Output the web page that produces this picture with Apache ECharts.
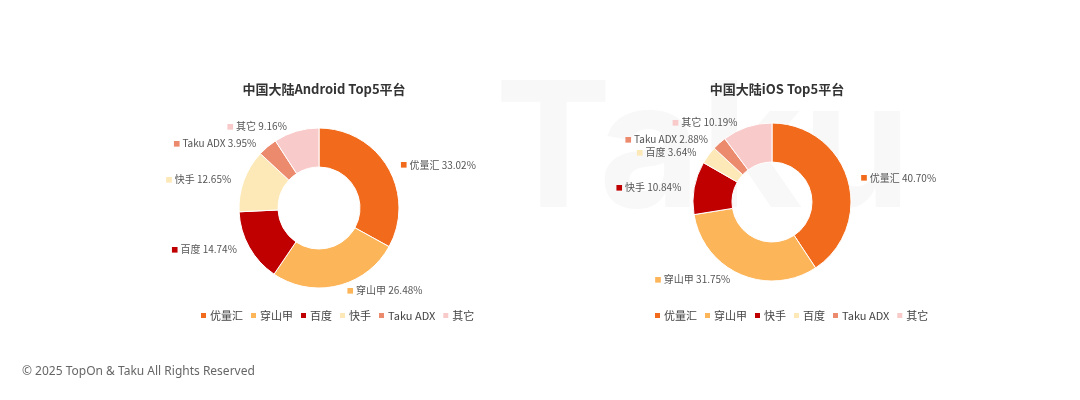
<!DOCTYPE html>
<html>
<head>
<meta charset="utf-8">
<script src="https://cdn.jsdelivr.net/npm/echarts@6/dist/echarts.min.js"></script>
<style>
  html, body { margin: 0; padding: 0; background: #fff; }
  #chart { width: 1080px; height: 400px; }
</style>
</head>
<body>
<div id="chart"></div>
<script>
const androidNames = ['优量汇', '穿山甲', '百度', '快手', 'Taku ADX', '其它'];
const androidValues = [33.02, 26.48, 14.74, 12.65, 3.95, 9.16];
const iosNames = ['优量汇', '穿山甲', '快手', '百度', 'Taku ADX', '其它'];
const iosValues = [40.70, 31.75, 10.84, 3.64, 2.88, 10.19];
const sliceColors = ['#F26A1B', '#FDB55A', '#C00000', '#FDE9B8', '#EC8A6E', '#F9CACA'];

const chart = echarts.init(document.getElementById('chart'));

function pieSeries(names, values, center, radius) {
  return {
    type: 'pie',
    radius,
    center,
    startAngle: 90,
    clockwise: true,
    itemStyle: { borderColor: '#fff', borderWidth: 1 },
    label: {
      position: 'outside',
      formatter: p => '{m|■} ' + p.name + ' ' + p.value.toFixed(2) + '%',
      fontSize: 10,
      color: '#555',
      fontFamily: 'Noto Sans CJK SC, sans-serif',
    },
    labelLine: { show: false, length: 5, length2: 3 },
    emphasis: { scale: false },
    data: names.map((name, i) => ({
      name,
      value: values[i],
      itemStyle: { color: sliceColors[i] },
      label: { rich: { m: { fontSize: 7, color: sliceColors[i] } } },
    })),
  };
}

function legendFor(names, left) {
  return {
    data: names.map((name, i) => ({ name, itemStyle: { color: sliceColors[i] } })),
    left,
    top: 305,
    icon: 'rect',
    itemWidth: 7,
    itemHeight: 7,
    itemGap: 6,
    textStyle: { fontSize: 11, color: '#444', fontFamily: 'Noto Sans CJK SC, sans-serif', padding: [0, 0, 0, -2] },
  };
}

chart.setOption({
  animation: false,
  graphic: [
    { type: 'text', left: 495, top: 67, z: -10, style: { text: 'Taku', fontSize: 175, fontWeight: 'bold', fill: '#f8f8f8', fontFamily: 'Inter, sans-serif' } },
    { type: 'text', left: 22, top: 366, style: { text: '© 2025 TopOn & Taku All Rights Reserved', fontSize: 12, fill: '#666', fontFamily: 'Noto Sans, sans-serif' } },
  ],
  title: [
    { text: '中国大陆Android Top5平台', left: 319, top: 78, textAlign: 'center', textStyle: { fontSize: 13, fontWeight: 'bold', color: '#333', fontFamily: 'Noto Sans CJK SC, sans-serif' } },
    { text: '中国大陆iOS Top5平台', left: 772, top: 78, textAlign: 'center', textStyle: { fontSize: 13, fontWeight: 'bold', color: '#333', fontFamily: 'Noto Sans CJK SC, sans-serif' } },
  ],
  legend: [legendFor(androidNames, 194), legendFor(iosNames, 648)],
  series: [
    pieSeries(androidNames, androidValues, [319, 208], [41, 80]),
    pieSeries(iosNames, iosValues, [772, 202], [40, 79]),
  ],
});

window.addEventListener('resize', () => chart.resize());
</script>
</body>
</html>
